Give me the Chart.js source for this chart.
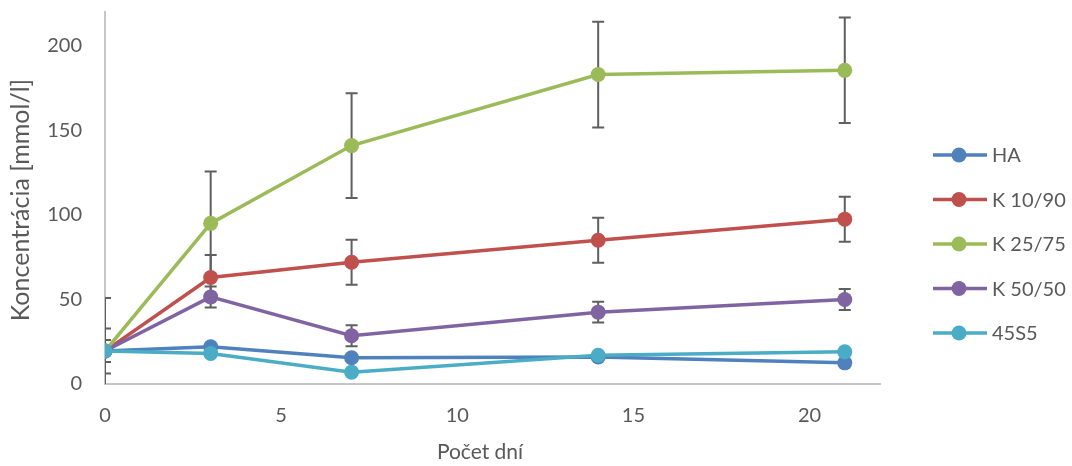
<!DOCTYPE html>
<html>
<head>
<meta charset="utf-8">
<script src="https://cdn.jsdelivr.net/npm/chart.js@4.4.0/dist/chart.umd.min.js"></script>
<style>
  html, body { margin: 0; padding: 0; background: #ffffff; }
  #wrap { width: 1072px; height: 466px; }
</style>
</head>
<body>
<div id="wrap"><canvas id="chart" width="1072" height="466"></canvas></div>
<script>
// Sampling days
const days = [0, 3, 7, 14, 21];

// Concentration means [mmol/l]
const haValues   = [19.5, 22.0, 15.5, 16.0, 12.5];
const k1090Values = [19.5, 63.0, 72.0, 85.0, 97.5];
const k2575Values = [19.5, 95.0, 141.0, 183.0, 185.5];
const k5050Values = [19.5, 51.5, 28.5, 42.5, 50.0];
const s45s5Values = [19.5, 18.0, 7.0, 17.0, 19.0];

// Standard deviations
const haErrors    = [0, 0, 0, 0, 0];
const k1090Errors = [13.3, 13.3, 13.3, 13.3, 13.3];
const k2575Errors = [31.4, 30.6, 31.0, 31.3, 31.2];
const k5050Errors = [6.5, 6.2, 6.2, 6.2, 6.2];
const s45s5Errors = [0, 0, 0, 0, 0];

const seriesNames = ['HA', 'K 10/90', 'K 25/75', 'K 50/50', '45S5'];
const seriesColors = ['#4F81BD', '#C0504D', '#9BBB59', '#8064A2', '#4BACC6'];

// Axis ticks
const xTicks = [0, 5, 10, 15, 20];
const yTicks = [0, 50, 100, 150, 200];

const xTitle = 'Počet dní';
const yTitle = 'Koncentrácia [mmol/l]';

const FONT = 'Lato, "Open Sans", sans-serif';
const TEXT_COLOR = '#595959';
const AXIS_COLOR = '#C6C6C6';

const allValues = [haValues, k1090Values, k2575Values, k5050Values, s45s5Values];
const allErrors = [haErrors, k1090Errors, k2575Errors, k5050Errors, s45s5Errors];

const datasets = seriesNames.map((name, i) => ({
  label: name,
  data: days.map((d, j) => ({ x: d, y: allValues[i][j] })),
  errors: allErrors[i],
  borderColor: seriesColors[i],
  backgroundColor: seriesColors[i],
  pointBackgroundColor: seriesColors[i],
  pointBorderColor: seriesColors[i],
  borderWidth: 3.5,
  pointRadius: 7.5,
  pointBorderWidth: 0,
  tension: 0,
  fill: false,
  order: seriesNames.length - i
}));

// Vertical error bars with caps, drawn beneath the series
const errorBars = {
  id: 'errorBars',
  beforeDatasetsDraw(chart) {
    const { ctx, chartArea, scales } = chart;
    const xs = scales.x, ys = scales.y;
    ctx.save();
    ctx.beginPath();
    ctx.rect(chartArea.left, chartArea.top, chartArea.right - chartArea.left, chartArea.bottom - chartArea.top);
    ctx.clip();
    ctx.strokeStyle = '#5F5F5F';
    ctx.lineWidth = 2;
    chart.data.datasets.forEach(ds => {
      ds.data.forEach((p, j) => {
        const e = ds.errors[j];
        if (!e) return;
        const px = xs.getPixelForValue(p.x);
        const yTop = ys.getPixelForValue(p.y + e);
        const yBot = ys.getPixelForValue(p.y - e);
        ctx.beginPath();
        ctx.moveTo(px, yTop); ctx.lineTo(px, yBot);
        ctx.moveTo(px - 6, yTop); ctx.lineTo(px + 6, yTop);
        ctx.moveTo(px - 6, yBot); ctx.lineTo(px + 6, yBot);
        ctx.stroke();
      });
    });
    ctx.restore();
  }
};

// Axis titles and the legend at the right
const decorations = {
  id: 'decorations',
  afterDraw(chart) {
    const { ctx } = chart;
    ctx.save();
    ctx.fillStyle = TEXT_COLOR;
    ctx.textAlign = 'center';
    ctx.textBaseline = 'middle';
    ctx.font = '21px ' + FONT;
    ctx.fillText(xTitle, 480, 452);
    ctx.save();
    ctx.translate(21, 200);
    ctx.rotate(-Math.PI / 2);
    ctx.font = '25px ' + FONT;
    ctx.fillText(yTitle, 0, 0);
    ctx.restore();

    ctx.textAlign = 'left';
    ctx.font = '20px ' + FONT;
    chart.data.datasets.forEach((ds, i) => {
      const y = 155 + i * 44.5;
      ctx.strokeStyle = ds.borderColor;
      ctx.lineWidth = 3.5;
      ctx.beginPath();
      ctx.moveTo(933, y); ctx.lineTo(987, y);
      ctx.stroke();
      ctx.fillStyle = ds.borderColor;
      ctx.beginPath();
      ctx.arc(959, y, 7.5, 0, Math.PI * 2);
      ctx.fill();
      ctx.fillStyle = TEXT_COLOR;
      ctx.fillText(ds.label, 992, y + 1);
    });
    ctx.restore();
  }
};

const noScalePadding = s => { s.paddingTop = 0; s.paddingBottom = 0; s.paddingLeft = 0; s.paddingRight = 0; };

new Chart(document.getElementById('chart'), {
  type: 'line',
  data: { datasets },
  options: {
    responsive: false,
    devicePixelRatio: 1,
    animation: false,
    layout: { padding: { left: 0, right: 192, top: 12, bottom: 0 } },
    plugins: {
      legend: { display: false },
      tooltip: { enabled: false }
    },
    scales: {
      x: {
        type: 'linear',
        min: 0,
        max: 22,
        afterBuildTicks: s => { s.ticks = xTicks.map(v => ({ value: v })); },
        afterFit: s => { s.height = 82; noScalePadding(s); },
        grid: { display: false, drawTicks: false },
        border: { display: true, color: AXIS_COLOR, width: 2 },
        ticks: { color: TEXT_COLOR, font: { family: FONT, size: 20 }, padding: 20, maxRotation: 0 }
      },
      y: {
        type: 'linear',
        min: 0,
        max: 220,
        afterBuildTicks: s => { s.ticks = yTicks.map(v => ({ value: v })); },
        afterFit: s => { s.width = 105; noScalePadding(s); },
        grid: { display: false, drawTicks: false },
        border: { display: true, color: AXIS_COLOR, width: 2 },
        ticks: { color: TEXT_COLOR, font: { family: FONT, size: 20 }, padding: 23 }
      }
    }
  },
  plugins: [errorBars, decorations]
});
</script>
</body>
</html>
